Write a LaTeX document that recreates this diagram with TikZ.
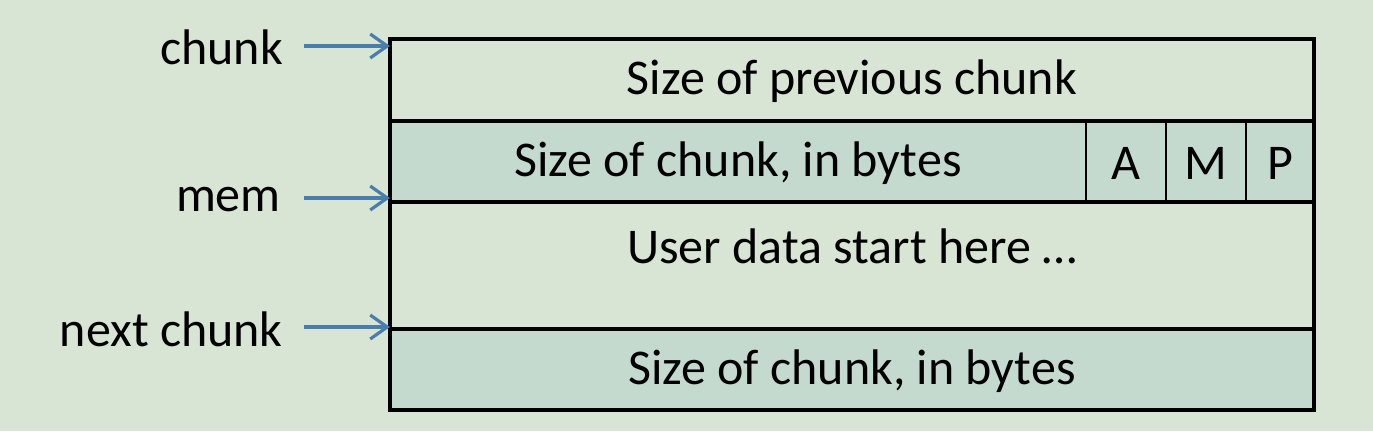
\documentclass[tikz,border=0pt]{standalone}
\usepackage{fontspec}
\setmainfont{Carlito}
\usetikzlibrary{arrows.meta}
\definecolor{bgc}{RGB}{216,228,212}
\definecolor{rowshade}{RGB}{196,218,207}
\definecolor{arrc}{RGB}{74,126,170}
\begin{document}
\begin{tikzpicture}[x=1pt,y=-1pt,
  rowtxt/.style={font=\fontsize{50}{60}\selectfont, inner sep=0pt, anchor=center},
  lbl/.style={font=\fontsize{50}{60}\selectfont, inner sep=0pt, anchor=east},
  ptr/.style={draw=arrc, line width=3.2pt, -{Straight Barb[length=17pt,width=24pt,line width=3.2pt]}},
  frame/.style={draw=black, line width=3.2pt},
  divider/.style={draw=black, line width=2.6pt}]
\fill[bgc] (0,0) rectangle (1373,431);
\useasboundingbox (0,0) rectangle (1373,431);
% shaded rows
\fill[rowshade] (390,121) rectangle (1314,202);
\fill[rowshade] (390,329) rectangle (1314,410);
% frame and row lines
\draw[frame] (390,39) rectangle (1314,410);
\draw[frame] (390,121) -- (1314,121);
\draw[frame] (390,202) -- (1314,202);
\draw[frame] (390,329) -- (1314,329);
\draw[divider] (1086,121) -- (1086,202);
\draw[divider] (1166,121) -- (1166,202);
\draw[divider] (1246,121) -- (1246,202);
% texts
\node[rowtxt] (prev) at (852,81) {Size of previous chunk};
\node[rowtxt] (size1) at (738,163) {Size of chunk, in bytes};
\node[rowtxt] (fa) at (1126,163) {A};
\node[rowtxt] (fm) at (1206,163) {M};
\node[rowtxt] (fp) at (1280,163) {P};
\node[rowtxt] (user) at (852,246) {User data start here …};
\node[rowtxt] (size2) at (852,371) {Size of chunk, in bytes};
% labels
\node[lbl] (chunk) at (283,47) {chunk};
\node[lbl] (mem) at (281,200) {mem};
\node[lbl] (next) at (283,329) {next chunk};
\coordinate (tchunk) at (390,46);
\coordinate (tmem) at (390,198);
\coordinate (tnext) at (390,327);
\draw[ptr] (304,46) -- (tchunk);
\draw[ptr] (304,198) -- (tmem);
\draw[ptr] (304,327) -- (tnext);
\end{tikzpicture}
\end{document}
